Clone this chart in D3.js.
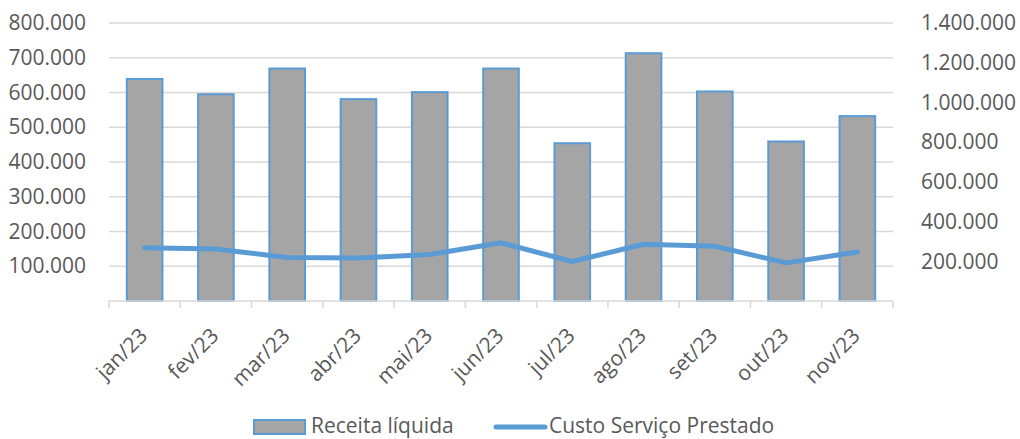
<!DOCTYPE html>
<html><head><meta charset="utf-8">
<script src="https://cdn.jsdelivr.net/npm/d3@7"></script>
<style>
html,body{margin:0;padding:0;background:#fff;}
svg{display:block;font-family:"Open Sans",sans-serif;}
</style></head>
<body>
<script>
const categories = ["jan/23","fev/23","mar/23","abr/23","mai/23","jun/23","jul/23","ago/23","set/23","out/23","nov/23"];
const receitaLiquida = [639000,595000,669000,581000,601000,669000,454000,713000,603000,459000,532000];
const custoServico = [268000,262000,219000,217000,234000,293000,199000,286000,276000,192000,247000];
const leftTicks = [0,100000,200000,300000,400000,500000,600000,700000,800000];
const rightTicks = [0,200000,400000,600000,800000,1000000,1200000,1400000];
const seriesNames = ["Receita líquida","Custo Serviço Prestado"];

const W=1020,H=439;
const m={left:109,right:127,top:23,bottom:138};
const x0=m.left,x1=W-m.right,yTop=m.top,yBot=H-m.bottom;
const loc=d3.formatLocale({decimal:",",thousands:".",grouping:[3],currency:["R$",""]});
const fmt=loc.format(",d");
const textColor="#595959",gridColor="#D9D9D9",blue="#5B9BD5",gray="#A5A5A5";
const fs="21px";

const svg=d3.select("body").append("svg").attr("width",W).attr("height",H);
const x=d3.scaleBand().domain(categories).range([x0,x1]).paddingInner(0.5).paddingOuter(0.25);
const yL=d3.scaleLinear().domain([0,800000]).range([yBot,yTop]);
const yR=d3.scaleLinear().domain([0,1400000]).range([yBot,yTop]);

// gridlines
svg.append("g").selectAll("line").data(leftTicks.filter(d=>d>0)).join("line")
  .attr("x1",x0).attr("x2",x1).attr("y1",d=>yL(d)).attr("y2",d=>yL(d))
  .attr("stroke",gridColor).attr("stroke-width",1.5);

// left axis labels
const gl=svg.append("g").attr("transform",`translate(${x0-23},0)`)
  .call(d3.axisLeft(yL).tickValues(leftTicks).tickFormat(d=>d===0?"":fmt(d)).tickSize(0).tickPadding(0));
gl.select(".domain").remove();
gl.selectAll("text").attr("fill",textColor).style("font-size",fs).style("font-family","'Open Sans',sans-serif");

// right axis labels
const gr=svg.append("g").attr("transform",`translate(${x1+28},0)`)
  .call(d3.axisRight(yR).tickValues(rightTicks).tickFormat(d=>d===0?"":fmt(d)).tickSize(0).tickPadding(0));
gr.select(".domain").remove();
gr.selectAll("text").attr("fill",textColor).style("font-size",fs).style("font-family","'Open Sans',sans-serif");

// bars
svg.append("g").selectAll("rect").data(categories).join("rect")
  .attr("x",d=>x(d)).attr("width",x.bandwidth())
  .attr("y",(d,i)=>yL(receitaLiquida[i])).attr("height",(d,i)=>yBot-yL(receitaLiquida[i]))
  .attr("fill",gray).attr("stroke",blue).attr("stroke-width",2);

// x axis
const step=x.step();
const gx=svg.append("g");
gx.append("line").attr("x1",x0).attr("x2",x1).attr("y1",yBot).attr("y2",yBot).attr("stroke",gridColor).attr("stroke-width",1.5);
const bounds=categories.map(c=>x(c)-step*0.25).concat([x1]);
gx.selectAll("line.t").data(bounds).join("line").attr("class","t")
  .attr("x1",d=>d).attr("x2",d=>d).attr("y1",yBot).attr("y2",yBot+7).attr("stroke",gridColor).attr("stroke-width",1.5);
gx.selectAll("text").data(categories).join("text")
  .attr("transform",d=>`translate(${x(d)+x.bandwidth()/2+4},${yBot+36}) rotate(-45)`)
  .attr("text-anchor","end").attr("fill",textColor).style("font-size",fs).text(d=>d);

// line
const line=d3.line().x((d,i)=>x(categories[i])+x.bandwidth()/2).y(d=>yR(d));
svg.append("path").datum(custoServico).attr("d",line).attr("fill","none")
  .attr("stroke",blue).attr("stroke-width",5).attr("stroke-linecap","round").attr("stroke-linejoin","round");

// legend
const lg=svg.append("g");
lg.append("rect").attr("x",254).attr("y",420).attr("width",51).attr("height",14).attr("fill",gray).attr("stroke",blue).attr("stroke-width",2);
lg.append("text").attr("x",311).attr("y",433).attr("fill",textColor).style("font-size",fs).text(seriesNames[0]);
lg.append("line").attr("x1",496).attr("x2",545).attr("y1",427).attr("y2",427).attr("stroke",blue).attr("stroke-width",5).attr("stroke-linecap","round");
lg.append("text").attr("x",549).attr("y",433).attr("fill",textColor).style("font-size",fs).text(seriesNames[1]);
</script>
</body></html>
